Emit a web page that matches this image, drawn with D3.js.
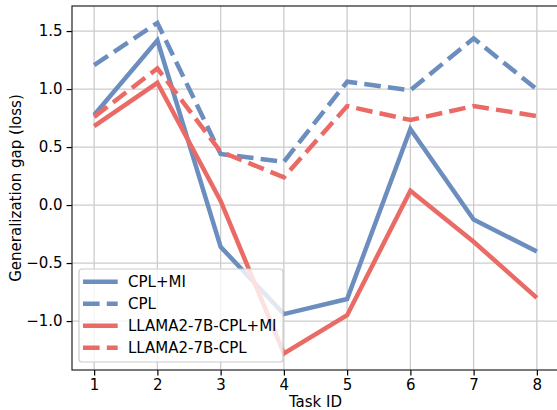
<!DOCTYPE html>
<html><head><meta charset="utf-8">
<script src="https://cdn.jsdelivr.net/npm/d3@7"></script>
<style>body{margin:0;background:#fff}svg{display:block;font-family:"DejaVu Sans",sans-serif}</style>
</head><body><svg id="c" width="557" height="410"></svg>
<script>
const tasks = [1,2,3,4,5,6,7,8];
const cplMI      = [0.776, 1.42, -0.36, -0.94, -0.81, 0.655, -0.125, -0.40];
const cpl        = [1.207, 1.57, 0.44, 0.373, 1.063, 0.99, 1.437, 0.997];
const llamaCplMI = [0.68, 1.054, 0.035, -1.28, -0.95, 0.123, -0.316, -0.80];
const llamaCpl   = [0.76, 1.178, 0.46, 0.24, 0.853, 0.733, 0.853, 0.767];
const seriesNames = ["CPL+MI","CPL","LLAMA2-7B-CPL+MI","LLAMA2-7B-CPL"];
const yTicks = [-1.0,-0.5,0.0,0.5,1.0,1.5];
const xLabel = "Task ID", yLabel = "Generalization gap (loss)";

const blue="#6c8ebf", red="#ea6b66";
const series=[
 {name:seriesNames[0],v:cplMI,c:blue,dash:null},
 {name:seriesNames[1],v:cpl,c:blue,dash:"16.6,7.2"},
 {name:seriesNames[2],v:llamaCplMI,c:red,dash:null},
 {name:seriesNames[3],v:llamaCpl,c:red,dash:"16.6,7.2"}];

const L=72,R=559,T=6,B=370;
const svg=d3.select("#c");
const x=d3.scaleLinear().domain([0.65,8.35]).range([L,R]);
const y=d3.scaleLinear().domain([-1.422,1.716]).range([B,T]);

// grid
const g=svg.append("g");
g.selectAll(".gx").data(tasks).enter().append("line")
 .attr("x1",d=>x(d)).attr("x2",d=>x(d)).attr("y1",T).attr("y2",B)
 .attr("stroke","#cccccc").attr("stroke-width",1.3);
g.selectAll(".gy").data(yTicks).enter().append("line")
 .attr("x1",L).attr("x2",R).attr("y1",d=>y(d)).attr("y2",d=>y(d))
 .attr("stroke","#cccccc").attr("stroke-width",1.3);

// lines
const line=d3.line().x((d,i)=>x(tasks[i])).y(d=>y(d));
series.forEach(s=>{
 svg.append("path").attr("d",line(s.v)).attr("fill","none")
  .attr("stroke",s.c).attr("stroke-width",4.5)
  .attr("stroke-dasharray",s.dash).attr("stroke-linejoin","miter").attr("stroke-linecap","butt");
});

// axes
const fmt=d=>d3.format(".1f")(d).replace("-","\u2212");
const xa=svg.append("g").attr("transform",`translate(0,${B})`)
 .call(d3.axisBottom(x).tickValues(tasks).tickSize(5.4).tickPadding(4).tickFormat(d3.format("d")));
const ya=svg.append("g").attr("transform",`translate(${L},0)`)
 .call(d3.axisLeft(y).tickValues(yTicks).tickSize(5.4).tickPadding(4).tickFormat(fmt));
[xa,ya].forEach(a=>{
 a.select(".domain").remove();
 a.selectAll(".tick line").attr("stroke","#000").attr("stroke-width",1.2);
 a.selectAll(".tick text").attr("fill","#000").style("font-size","15px").style("font-family","DejaVu Sans");
});
// spines
svg.append("rect").attr("x",L).attr("y",T).attr("width",R-L).attr("height",B-T)
 .attr("fill","none").attr("stroke","#222").attr("stroke-width",1.2);

// labels
svg.append("text").attr("x",(L+R)/2).attr("y",407).attr("text-anchor","middle")
 .style("font-size","15px").text(xLabel);
svg.append("text").attr("transform",`translate(21,${(T+B)/2}) rotate(-90)`).attr("text-anchor","middle")
 .style("font-size","15px").text(yLabel);

// legend
const lg=svg.append("g");
lg.append("rect").attr("x",79).attr("y",269).attr("width",204).attr("height",93).attr("rx",3)
 .attr("fill","#fff").attr("fill-opacity",0.8).attr("stroke","#cccccc").attr("stroke-width",1.2);
series.forEach((s,i)=>{
 const yy=281.7+i*22;
 lg.append("line").attr("x1",83).attr("x2",117.7).attr("y1",yy).attr("y2",yy)
  .attr("stroke",s.c).attr("stroke-width",4.5).attr("stroke-dasharray",s.dash?"16.6,7.2":null);
 lg.append("text").attr("x",128).attr("y",yy+5.3).style("font-size","15px").text(s.name);
});
</script></body></html>
